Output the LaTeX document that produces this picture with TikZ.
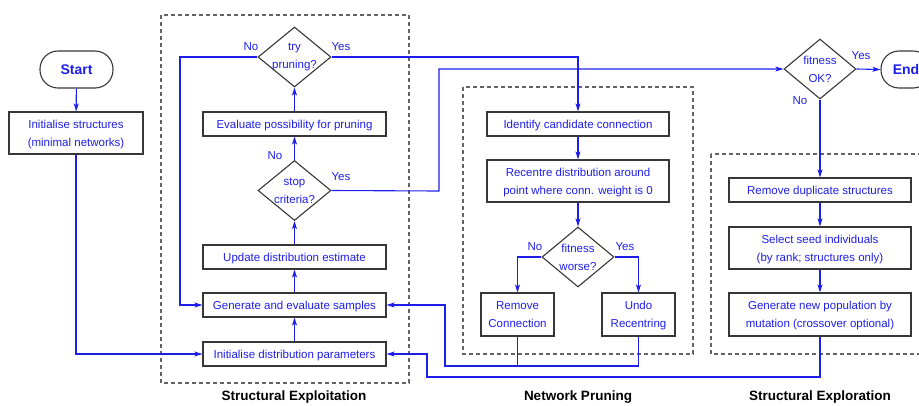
\documentclass[tikz,border=0pt]{standalone}
\usepackage{fontspec}
\setmainfont{Liberation Sans}
\usetikzlibrary{shapes.geometric,arrows.meta}

\definecolor{flowblue}{RGB}{30,30,235}
\definecolor{boxgray}{RGB}{55,55,55}
\definecolor{dashgray}{RGB}{100,100,100}

\begin{document}
\begin{tikzpicture}[x=1pt,y=-1pt,
  font=\fontsize{11.5}{18}\selectfont,
  proc/.style 2 args={draw=boxgray, line width=1.1pt, text=flowblue, align=center,
    inner sep=0pt, text depth=0pt, minimum width=#1, minimum height=#2},
  decision/.style={diamond, draw=boxgray, line width=1.1pt, inner sep=0pt,
    minimum width=73pt, minimum height=60pt},
  dtxt/.style={text=flowblue, align=center, inner sep=0pt},
  terminal/.style={draw=boxgray, line width=1.1pt, rounded corners=18pt, text=flowblue,
    font=\fontsize{14}{16}\selectfont\bfseries, inner sep=0pt, minimum height=37pt},
  flow/.style={draw=flowblue, line width=1.1pt},
  arr/.style={flow, -{Stealth[length=8pt,width=5pt,inset=2pt]}},
  yn/.style={text=flowblue, inner sep=0pt},
  group/.style={draw=dashgray, line width=1.2pt, dash pattern=on 4pt off 3pt},
  grouplabel/.style={font=\fontsize{13.5}{16}\selectfont\bfseries, text=black, inner sep=0pt}
]
\useasboundingbox (0,0) rectangle (919,405);

% dashed group frames
\draw[group] (161,15) rectangle (409,383);
\draw[group] (463,87) rectangle (693,354);
\draw[group] (711,154) rectangle (935,354);
\node[grouplabel] (lexploit) at (294,397) {Structural Exploitation};
\node[grouplabel] (lprune) at (578,397) {Network Pruning};
\node[grouplabel] (lexplore) at (820,397) {Structural Exploration};

% start and initialisation
\node[terminal, minimum width=73pt] (start) at (76.5,69.5) {Start};
\node[proc={134pt}{42pt}] (initS) at (76,133) {Initialise structures\\(minimal networks)};

% structural exploitation column
\node[decision] (tp) at (294.5,57) {};
\node[dtxt] (tptxt) at (tp) {try\\pruning?};
\node[proc={183pt}{24pt}] (evalP) at (294.5,124) {Evaluate possibility for pruning};
\node[decision] (sc) at (294.5,190.5) {};
\node[dtxt] (sctxt) at (sc) {stop\\criteria?};
\node[proc={183pt}{24pt}] (upd) at (294.5,257) {Update distribution estimate};
\node[proc={183pt}{24pt}] (gen) at (294.5,305) {Generate and evaluate samples};
\node[proc={183pt}{24pt}] (initD) at (294.5,354) {Initialise distribution parameters};

% network pruning column
\node[proc={182pt}{24pt}] (idc) at (578,124) {Identify candidate connection};
\node[proc={182pt}{42pt}] (rec) at (578,181) {Recentre distribution around\\point where conn. weight is 0};
\node[decision, minimum width=72pt] (fw) at (578,257) {};
\node[dtxt] (fwtxt) at (fw) {fitness\\worse?};
\node[proc={73pt}{43pt}] (remC) at (517.5,314.5) {Remove\\Connection};
\node[proc={73pt}{43pt}] (undo) at (638.5,314.5) {Undo\\Recentring};

% termination test and exploration column
\node[decision, minimum width=72pt] (fok) at (820,69) {};
\node[dtxt] (foktxt) at (fok) {fitness\\OK?};
\node[terminal, minimum width=50pt] (endN) at (906,69.5) {End};
\node[proc={182pt}{24pt}] (remDup) at (820,190) {Remove duplicate structures};
\node[proc={182pt}{42pt}] (seed) at (820,248) {Select seed individuals\\(by rank; structures only)};
\node[proc={182pt}{43pt}] (genPop) at (820,314.5) {Generate new population by\\mutation (crossover optional)};

% routing points
\coordinate (tpL) at (180,57);
\coordinate (scR) at (439,191);
\coordinate (pj) at (445,366);
\coordinate (xj) at (427,377);

% connectors
\draw[arr] (start) -- (initS);
\draw[arr] (initS.south) |- (initD.west);
\draw[arr] (initD) -- (gen);
\draw[arr] (gen) -- (upd);
\draw[arr] (upd) -- (sc.south);
\draw[arr] (sc.north) -- (evalP);
\draw[arr] (evalP) -- (tp.south);
\draw[arr] (tp.west) -- (tpL) |- (gen.west);
\draw[arr] (tp.east) -| (idc.north);
\draw[arr] (sc.east) -- (scR) |- (fok.west);
\draw[arr] (fok.east) -- (endN.west);
\draw[arr] (fok.south) -- (remDup.north);
\draw[arr] (idc) -- (rec);
\draw[arr] (rec) -- (fw.north);
\draw[arr] (fw.west) -| (remC.north);
\draw[arr] (fw.east) -| (undo.north);
\draw[flow] (remC.south) -- (remC.south |- pj);
\draw[arr] (undo.south) |- (pj) |- (gen.east);
\draw[arr] (remDup) -- (seed);
\draw[arr] (seed) -- (genPop);
\draw[arr] (genPop.south) |- (xj) |- (initD.east);

% branch labels
\node[yn] (tpno) at (251,47) {No};
\node[yn] (tpyes) at (341,47) {Yes};
\node[yn] (scno) at (275,156) {No};
\node[yn] (scyes) at (341,177) {Yes};
\node[yn] (fwno) at (535,247) {No};
\node[yn] (fwyes) at (625,247) {Yes};
\node[yn] (fokyes) at (861,56) {Yes};
\node[yn] (fokno) at (800,101) {No};
\end{tikzpicture}
\end{document}
